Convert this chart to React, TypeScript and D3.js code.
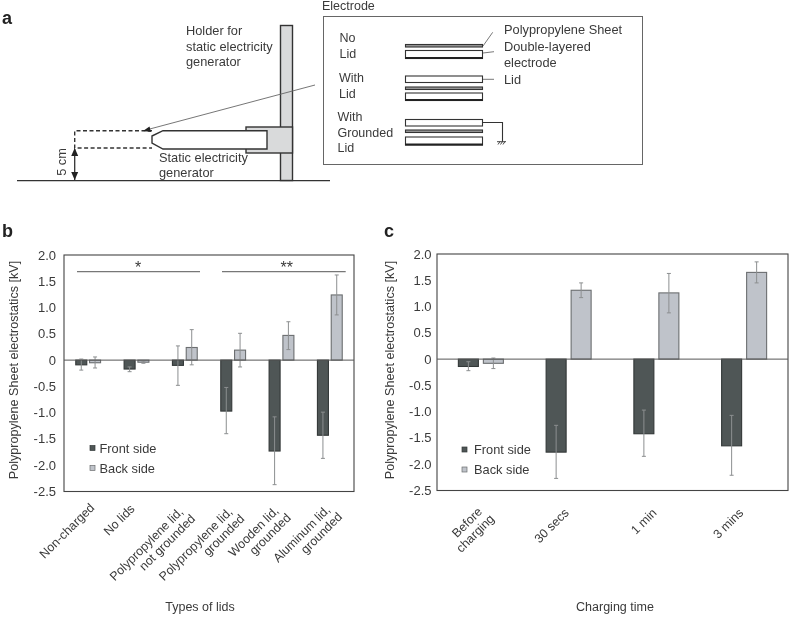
import React from "react";
import * as d3 from "d3";

const FONT = "'Liberation Sans', Arial, sans-serif";
const TEXT = "#3a3a3a";
const yTicks = [2, 1.5, 1, 0.5, 0, -0.5, -1, -1.5, -2, -2.5];
const yTickLabels = ["2.0", "1.5", "1.0", "0.5", "0", "-0.5", "-1.0", "-1.5", "-2.0", "-2.5"];

const lidCategories = [
  ["Non-charged"],
  ["No lids"],
  ["Polypropylene lid,", "not grounded"],
  ["Polypropylene lid,", "grounded"],
  ["Wooden lid,", "grounded"],
  ["Aluminum lid,", "grounded"],
];
const lidFront = [-0.09, -0.17, -0.1, -0.97, -1.73, -1.43];
const lidBack = [-0.05, -0.04, 0.24, 0.19, 0.47, 1.24];
const lidFrontErr = [[0.02, -0.19], [-0.13, -0.22], [0.27, -0.48], [-0.52, -1.4], [-1.08, -2.37], [-0.99, -1.87]];
const lidBackErr = [[0.06, -0.15], [-0.02, -0.06], [0.58, -0.09], [0.51, -0.13], [0.73, 0.2], [1.62, 0.86]];

const timeCategories = [["Before", "charging"], ["30 secs"], ["1 min"], ["3 mins"]];
const timeFront = [-0.14, -1.77, -1.42, -1.65];
const timeBack = [-0.08, 1.31, 1.26, 1.65];
const timeFrontErr = [[-0.05, -0.22], [-1.26, -2.27], [-0.97, -1.85], [-1.07, -2.21]];
const timeBackErr = [[0.02, -0.18], [1.45, 1.17], [1.63, 0.88], [1.85, 1.45]];

// hand-placed nudges of the rotated category labels, [dx, dy]
const lidLabelNudge = [[0, -2], [-8, -1], [-3, -3], [-2, -3], [-4, -4], [-1, -5]];
const timeLabelNudge = [[0, -2], [-6, 4], [-6, 4], [-7, 4]];

const T = (p: any) => <text fontFamily={FONT} fill={TEXT} fontSize={12.8} {...p} />;

function Panel({ left, right, top, bottom, cats, front, back, frontErr, backErr, barW, gap, labelX, tickGap, titleX, title, legendX, legendY, legendGap, nudge }: any) {
  const x = d3.scaleBand<number>().domain(d3.range(cats.length)).range([left, right]);
  const y = d3.scaleLinear().domain([-2.5, 2]).range([bottom, top]);
  const bars = (vals: number[], errs: number[][], side: number, fill: string, stroke: string) =>
    vals.map((v, i) => {
      const cx = x(i)! + x.bandwidth() / 2 + side * (barW + gap) / 2;
      return (
        <g key={i}>
          <rect x={cx - barW / 2} width={barW} y={Math.min(y(v), y(0))} height={Math.abs(y(v) - y(0))} fill={fill} stroke={stroke} strokeWidth={1.1} />
          <path d={`M${cx},${y(errs[i][0])}V${y(errs[i][1])}M${cx - 2},${y(errs[i][0])}h4M${cx - 2},${y(errs[i][1])}h4`} stroke="#8c8f90" strokeWidth={1} fill="none" />
        </g>
      );
    });
  return (
    <g>
      <rect x={left} y={top} width={right - left} height={bottom - top} fill="none" stroke="#444" strokeWidth={1.1} />
      {yTicks.map((t, i) => (
        <T key={t} x={left - tickGap} y={y(t) + 4.5} fontSize={13} textAnchor="end">{yTickLabels[i]}</T>
      ))}
      <T transform={`translate(${labelX},370) rotate(-90)`} textAnchor="middle" fontSize={12.6}>Polypropylene Sheet electrostatics [kV]</T>
      {bars(front, frontErr, -1, "#4f5656", "#333838")}
      {bars(back, backErr, 1, "#bfc3ca", "#6b6e70")}
      <line x1={left} x2={right} y1={y(0)} y2={y(0)} stroke="#555" strokeWidth={1} />
      {cats.map((lines: string[], i: number) => {
        const cx = x(i)! + x.bandwidth() / 2 + 7 + nudge[i][0];
        return (
          <g key={i} transform={`translate(${cx},${bottom + 19 + nudge[i][1]}) rotate(-45)`}>
            {lines.map((s, j) => (
              <T key={j} x={lines.length > 1 ? (j === 0 ? 0 : 3.5) - 7 : 0} y={lines.length > 1 ? (j === 0 ? 0 : 13.5) : 0} fontSize={12.4} textAnchor="end">{s}</T>
            ))}
          </g>
        );
      })}
      <T x={titleX} y={611} fontSize={12.5} textAnchor="middle">{title}</T>
      <rect x={legendX} y={legendY - 2.5} width={5} height={5} fill="#4f5656" stroke="#333838" strokeWidth={0.7} />
      <rect x={legendX} y={legendY + 17.5} width={5} height={5} fill="#bfc3ca" stroke="#6b6e70" strokeWidth={0.7} />
      <T x={legendX + legendGap} y={legendY + 4.5} fontSize={12.8}>Front side</T>
      <T x={legendX + legendGap} y={legendY + 24.5} fontSize={12.8}>Back side</T>
    </g>
  );
}

function Sheet({ y1, y2 }: any) {
  return <rect x={405.5} y={y1} width={77} height={y2 - y1} fill="#999" stroke="#333" strokeWidth={1.1} />;
}
function Box({ y1, y2, thick }: any) {
  return (
    <g>
      <rect x={405.5} y={y1} width={77} height={y2 - y1} fill="#fff" stroke="#333" strokeWidth={1.1} />
      {thick && <line x1={405} x2={483} y1={y2 - 0.5} y2={y2 - 0.5} stroke="#222" strokeWidth={2} />}
    </g>
  );
}

function PanelA() {
  const dark = "#333";
  return (
    <g>
      <T x={2} y={24} fontSize={18} fontWeight="bold" fill="#222">a</T>
      <line x1={17} x2={330} y1={180.7} y2={180.7} stroke={dark} strokeWidth={1.3} />
      <rect x={280.5} y={25.5} width={12} height={155} fill="#d9dadb" stroke={dark} strokeWidth={1.4} />
      <rect x={246} y={127} width={46.5} height={26} fill="#d9dadb" stroke={dark} strokeWidth={1.4} />
      <path d="M152,136L163,130.7H267V149H163L152,143Z" fill="#fff" stroke={dark} strokeWidth={1.4} />
      <path d="M152,130.7H74.7V148H152" fill="none" stroke={dark} strokeWidth={1.4} strokeDasharray="4 2.5" />
      <path d="M74.7,149V180" stroke={dark} strokeWidth={1.3} />
      <path d="M74.7,148l-3.5,8h7ZM74.7,180l-3.5,-8h7Z" fill="#222" />
      <T transform="translate(66,162) rotate(-90)" textAnchor="middle">5 cm</T>
      <line x1={315} y1={85} x2={146} y2={130} stroke="#666" strokeWidth={0.9} />
      <path d="M143,131l6.5,-4.5l1.5,5.5Z" fill="#222" />
      <T x={186} y={35}>Holder for</T>
      <T x={186} y={50.5}>static electricity</T>
      <T x={186} y={66}>generator</T>
      <T x={159} y={162}>Static electricity</T>
      <T x={159} y={177}>generator</T>

      <T x={322} y={10} fontSize={12.5}>Electrode</T>
      <rect x={323.5} y={16.5} width={319} height={148} fill="#fff" stroke="#666" strokeWidth={1} />
      <T x={339.5} y={42} fontSize={12.5}>No</T>
      <T x={339.5} y={58} fontSize={12.5}>Lid</T>
      <T x={339} y={82} fontSize={12.5}>With</T>
      <T x={339} y={98} fontSize={12.5}>Lid</T>
      <T x={337.5} y={121} fontSize={12.5}>With</T>
      <T x={337.5} y={137} fontSize={12.5}>Grounded</T>
      <T x={337.5} y={152} fontSize={12.5}>Lid</T>
      <Sheet y1={44.5} y2={47} />
      <Box y1={50.5} y2={58.5} thick />
      <Box y1={76} y2={82.5} />
      <Sheet y1={87} y2={89.5} />
      <Box y1={93} y2={100.5} thick />
      <Box y1={119.5} y2={126} />
      <Sheet y1={130} y2={132.5} />
      <Box y1={137} y2={145} thick />
      <path d="M483,122.5H502.5V141.5" fill="none" stroke={dark} strokeWidth={1.1} />
      <path d="M497,141.7H506M498,144.5l2,-3M500.5,144.5l2,-3M503,144.5l2,-3" fill="none" stroke={dark} strokeWidth={0.9} />
      <path d="M483,46L492.7,32.3M483,53L494,51.7M483,79.3H494" fill="none" stroke="#555" strokeWidth={0.8} />
      <T x={504} y={34}>Polypropylene Sheet</T>
      <T x={504} y={51}>Double-layered</T>
      <T x={504} y={67}>electrode</T>
      <T x={504} y={84}>Lid</T>
    </g>
  );
}

export default function App() {
  return (
    <svg width={790} height={617} style={{ position: "absolute", left: 0, top: 0, background: "#fff", filter: "blur(0.35px)" }}>
      <PanelA />
      <T x={2} y={237} fontSize={18} fontWeight="bold" fill="#222">b</T>
      <T x={384} y={237} fontSize={18} fontWeight="bold" fill="#222">c</T>
      <Panel left={64} right={354} top={255} bottom={491.5} cats={lidCategories} front={lidFront} back={lidBack} frontErr={lidFrontErr} backErr={lidBackErr} barW={11} gap={2.8} labelX={18} tickGap={8} titleX={200} title="Types of lids" legendX={90} legendY={448} legendGap={9.5} nudge={lidLabelNudge} />
      <Panel left={437} right={788} top={254} bottom={490.5} cats={timeCategories} front={timeFront} back={timeBack} frontErr={timeFrontErr} backErr={timeBackErr} barW={20} gap={5} labelX={394} tickGap={5.5} titleX={615} title="Charging time" legendX={462} legendY={449.5} legendGap={12} nudge={timeLabelNudge} />
      <T x={138} y={273} fontSize={16} textAnchor="middle">*</T>
      <T x={286.7} y={273} fontSize={16} textAnchor="middle">**</T>
      <line x1={77} x2={200} y1={271.7} y2={271.7} stroke="#777" strokeWidth={1.2} />
      <line x1={222} x2={345.7} y1={271.7} y2={271.7} stroke="#777" strokeWidth={1.2} />
    </svg>
  );
}
